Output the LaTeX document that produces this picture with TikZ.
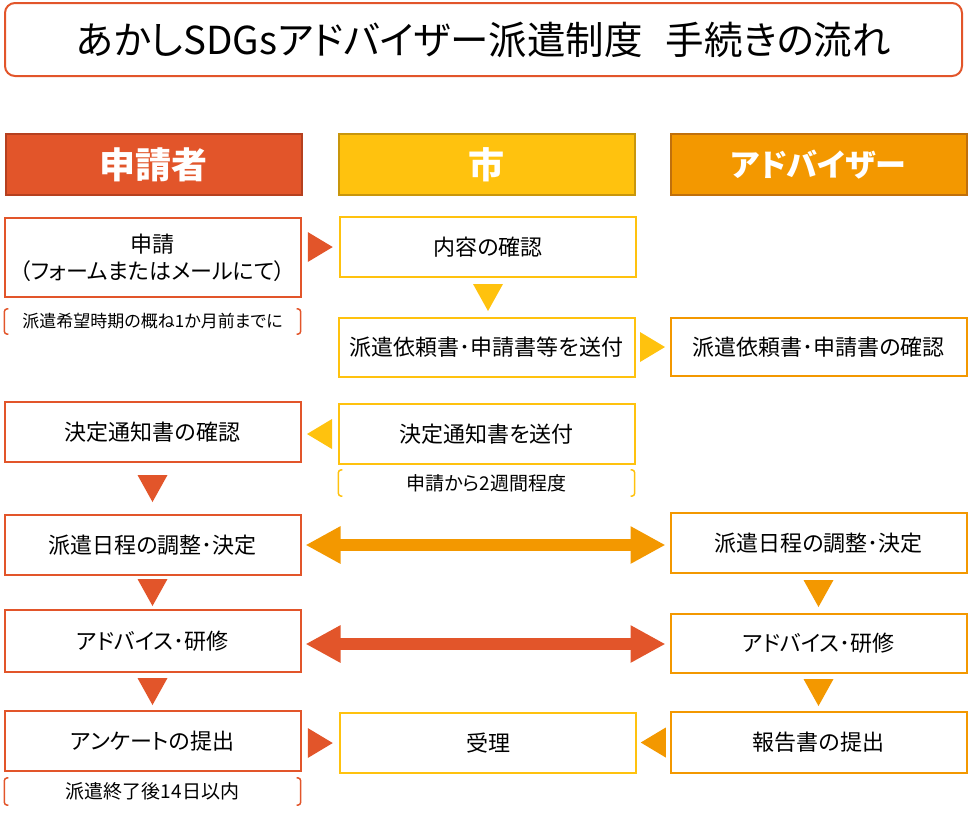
\documentclass[tikz,border=0pt]{standalone}
\usepackage{fontspec}
\setmainfont{Noto Sans CJK JP}[RawFeature=+palt]
\usetikzlibrary{arrows.meta, positioning, calc}
\definecolor{appRed}{HTML}{E2552A}
\definecolor{appRedDk}{HTML}{B5401F}
\definecolor{cityYel}{HTML}{FFC20E}
\definecolor{cityYelDk}{HTML}{C8960C}
\definecolor{advOrg}{HTML}{F39800}
\definecolor{advOrgDk}{HTML}{C0700C}
\tikzset{
  titlebox/.style = {draw=appRed, rectangle, line width=2pt, rounded corners=10pt,
                     minimum width=957pt, minimum height=73pt,
                     font=\fontsize{38.5}{42}\selectfont},
  head/.style     = {draw, rectangle, line width=2pt,
                     minimum width=296pt, minimum height=61pt,
                     text=white, font=\bfseries\fontsize{36}{40}\selectfont},
  box/.style      = {draw, rectangle, line width=2pt, fill=white,
                     minimum width=296pt, minimum height=60pt,
                     align=center, font=\fontsize{22}{27}\selectfont},
  appbox/.style   = {box, draw=appRed},
  citybox/.style  = {box, draw=cityYel},
  advbox/.style   = {box, draw=advOrg},
  note/.style     = {rectangle, inner sep=0pt,
                     minimum width=296pt, minimum height=25pt,
                     font=\fontsize{19}{22}\selectfont},
  dbl/.style      = {line width=12pt,
                     {Triangle[length=35pt,width=35pt]}-{Triangle[length=35pt,width=35pt]},
                     shorten <=4pt, shorten >=4pt}
}
% small solid triangles between boxes
\newcommand{\tright}[3]{%
  \path ($(#1.east)!0.5!(#2.west)$) coordinate (m);
  \fill[#3] (m |- #2) ++(-12.5pt,15pt) -- ++(25pt,-15pt) -- ++(-25pt,-15pt) -- cycle;
}
\newcommand{\tleft}[3]{%
  \path ($(#2.east)!0.5!(#1.west)$) coordinate (m);
  \fill[#3] (m |- #1) ++(12.5pt,15pt) -- ++(-25pt,-15pt) -- ++(25pt,-15pt) -- cycle;
}
\newcommand{\tdown}[3]{%
  \path ($(#1.south)!0.5!(#2.north)$) coordinate (m);
  \fill[#3] (m -| #1) ++(-15pt,13.5pt) -- ++(30pt,0pt) -- ++(-15pt,-27pt) -- cycle;
}
% bracket marks round a note
\newcommand{\brackets}[2]{%
  \draw[#2, line width=1.5pt, rounded corners=3pt]
    ([xshift=4pt]#1.north west) -- (#1.north west) -- (#1.south west) -- ([xshift=4pt]#1.south west);
  \draw[#2, line width=1.5pt, rounded corners=3pt]
    ([xshift=-4pt]#1.north east) -- (#1.north east) -- (#1.south east) -- ([xshift=-4pt]#1.south east);
}
\begin{document}
\begin{tikzpicture}[x=1pt, y=-1pt]
  \useasboundingbox (0,0) rectangle (968,815);

  %% title
  \node[titlebox] (title) at (483.5,39.5)
        {あかしSDGsアドバイザー派遣制度\hspace{0.6em}手続きの流れ};

  %% column heads
  \node[head, fill=appRed,  draw=appRedDk]  (hApp)  at (153.5,164.5) {申請者};
  \node[head, fill=cityYel, draw=cityYelDk] (hCity) at (486.5,164.5) {市};
  \node[head, fill=advOrg,  draw=advOrgDk,
        font=\bfseries\fontsize{31}{36}\selectfont] (hAdv) at (818.5,164.5) {アドバイザー};

  %% applicant column
  \node[appbox, minimum height=79pt] (a1) at (152.5,257.5)
        {申請\\（フォームまたはメールにて）};
  \node[note, font=\fontsize{17}{20}\selectfont] (n1) at (152.5,321.5)
        {派遣希望時期の概ね1か月前までに};
  \node[appbox] (a2) at (152.5,432) {決定通知書の確認};
  \node[appbox] (a3) at (152.5,545) {派遣日程の調整･決定};
  \node[appbox, minimum height=62pt] (a4) at (152.5,641) {アドバイス･研修};
  \node[appbox] (a5) at (152.5,741) {アンケートの提出};
  \node[note, minimum height=27pt] (n3) at (152.5,791.5) {派遣終了後14日以内};

  %% city column
  \node[citybox] (c1) at (488,247) {内容の確認};
  \node[citybox, minimum height=59pt] (c2) at (486.5,347.5) {派遣依頼書･申請書等を送付};
  \node[citybox] (c3) at (486.5,434) {決定通知書を送付};
  \node[note, minimum height=26pt] (n2) at (486.5,483) {申請から2週間程度};
  \node[citybox] (c4) at (488,743) {受理};

  %% adviser column
  \node[advbox, minimum height=58pt] (v1) at (818.5,347) {派遣依頼書･申請書の確認};
  \node[advbox] (v2) at (818.5,543) {派遣日程の調整･決定};
  \node[advbox, minimum height=59pt] (v3) at (818.5,643.5) {アドバイス･研修};
  \node[advbox, minimum height=61pt] (v4) at (818.5,742.5) {報告書の提出};

  %% notes
  \brackets{n1}{appRed}
  \brackets{n2}{cityYel}
  \brackets{n3}{appRed}

  %% flow triangles
  \tright{a1}{c1}{appRed}
  \tdown{c1}{c2}{cityYel}
  \tright{c2}{v1}{cityYel}
  \tleft{c3}{a2}{cityYel}
  \tdown{a2}{a3}{appRed}
  \tdown{a3}{a4}{appRed}
  \tdown{a4}{a5}{appRed}
  \tdown{v2}{v3}{advOrg}
  \tdown{v3}{v4}{advOrg}
  \tright{a5}{c4}{appRed}
  \tleft{v4}{c4}{advOrg}

  %% two-way arrows
  \draw[dbl, advOrg] (a3.east) -- (a3.east -| v2.west);
  \draw[dbl, appRed] ([yshift=-3pt]a4.east) -- ([yshift=-3pt]a4.east -| v3.west);

\end{tikzpicture}
\end{document}
